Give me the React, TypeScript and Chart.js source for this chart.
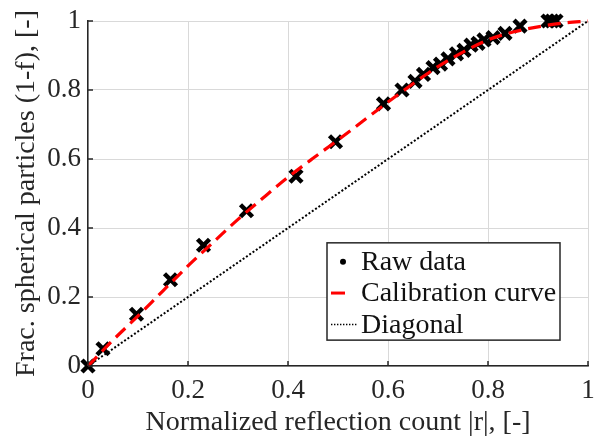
import React, { useEffect, useRef } from "react";
import { Chart, registerables } from "chart.js";

Chart.register(...registerables);

const rawX = [0, 0.03, 0.097, 0.165, 0.231, 0.317, 0.416, 0.495, 0.591, 0.628, 0.654, 0.671, 0.69, 0.705, 0.72, 0.737, 0.752, 0.766, 0.78, 0.792, 0.81, 0.834, 0.864, 0.92, 0.928, 0.936];
const rawY = [0, 0.05, 0.15, 0.25, 0.35, 0.45, 0.55, 0.65, 0.76, 0.8, 0.825, 0.845, 0.865, 0.875, 0.89, 0.905, 0.915, 0.93, 0.935, 0.945, 0.952, 0.964, 0.985, 1.0, 1.0, 1.0];

const calX = [0, 0.05, 0.1, 0.15, 0.2, 0.25, 0.3, 0.35, 0.4, 0.45, 0.5, 0.55, 0.6, 0.65, 0.7, 0.75, 0.8, 0.85, 0.9, 0.95, 1.0];
const calY = [0, 0.075, 0.145, 0.218, 0.29, 0.358, 0.425, 0.487, 0.547, 0.602, 0.655, 0.71, 0.765, 0.818, 0.868, 0.91, 0.945, 0.968, 0.983, 0.994, 1.0];

const diagX = [0, 1];
const diagY = [0, 1];

const tickValues = [0, 0.2, 0.4, 0.6, 0.8, 1];
const tickLabels = ["0", "0.2", "0.4", "0.6", "0.8", "1"];

const seriesNames = ["Raw data", "Calibration curve", "Diagonal"];
const xTitle = "Normalized reflection count |r|, [-]";
const yTitle = "Frac. spherical particles (1-f), [-]";

const FONT = "'Liberation Serif', 'Times New Roman', serif";
const AXIS_COLOR = "#262626";

const innerTicks = {
  id: "innerTicks",
  afterDatasetsDraw(chart: any) {
    const { ctx, chartArea, scales } = chart;
    ctx.save();
    ctx.strokeStyle = AXIS_COLOR;
    ctx.lineWidth = 1.5;
    tickValues.forEach((v) => {
      const px = scales.x.getPixelForValue(v);
      ctx.beginPath();
      ctx.moveTo(px, chartArea.bottom);
      ctx.lineTo(px, chartArea.bottom - 5);
      ctx.stroke();
      const py = scales.y.getPixelForValue(v);
      ctx.beginPath();
      ctx.moveTo(chartArea.left, py);
      ctx.lineTo(chartArea.left + 5, py);
      ctx.stroke();
    });
    ctx.restore();
  },
};

const boxLegend = {
  id: "boxLegend",
  afterDraw(chart: any) {
    const { ctx, chartArea } = chart;
    const w = chartArea.right - chartArea.left;
    const h = chartArea.bottom - chartArea.top;
    const x0 = chartArea.left + w * 0.478;
    const y0 = chartArea.top + h * 0.643;
    const x1 = chartArea.left + w * 0.944;
    const y1 = chartArea.top + h * 0.925;
    ctx.save();
    ctx.fillStyle = "#ffffff";
    ctx.fillRect(x0, y0, x1 - x0, y1 - y0);
    ctx.strokeStyle = AXIS_COLOR;
    ctx.lineWidth = 1.5;
    ctx.strokeRect(x0, y0, x1 - x0, y1 - y0);
    const rowH = (y1 - y0) / 3.1;
    const textX = x0 + 34;
    ctx.font = `28px ${FONT}`;
    ctx.textBaseline = "middle";
    ctx.textAlign = "left";
    seriesNames.forEach((name, i) => {
      const cy = y0 + rowH * (i + 0.6);
      if (i === 0) {
        ctx.fillStyle = "#000";
        ctx.beginPath();
        ctx.arc(x0 + 16, cy, 3, 0, Math.PI * 2);
        ctx.fill();
      } else if (i === 1) {
        ctx.strokeStyle = "#ff0000";
        ctx.lineWidth = 3;
        ctx.beginPath();
        ctx.moveTo(x0 + 4, cy);
        ctx.lineTo(x0 + 18, cy);
        ctx.stroke();
      } else {
        ctx.strokeStyle = "#000";
        ctx.lineWidth = 1.4;
        ctx.setLineDash([1.4, 1.6]);
        ctx.beginPath();
        ctx.moveTo(x0 + 4, cy);
        ctx.lineTo(x0 + 31, cy);
        ctx.stroke();
        ctx.setLineDash([]);
      }
      ctx.fillStyle = "#111";
      ctx.fillText(name, textX, cy + 1);
    });
    ctx.restore();
  },
};

export default function App() {
  const ref = useRef<HTMLCanvasElement | null>(null);
  useEffect(() => {
    document.body.style.margin = "0";
    const canvas = ref.current!;
    const chart = new Chart(canvas, {
      type: "scatter",
      data: {
        datasets: [
          {
            label: seriesNames[1],
            data: calX.map((x, i) => ({ x, y: calY[i] })),
            showLine: true,
            borderColor: "#ff0000",
            borderWidth: 3.2,
            borderDash: [13, 7],
            pointRadius: 0,
            cubicInterpolationMode: "monotone",
            clip: false,
            order: 0,
          } as any,
          {
            label: seriesNames[0],
            data: rawX.map((x, i) => ({ x, y: rawY[i] })),
            showLine: false,
            pointStyle: "crossRot",
            pointRadius: 8.5,
            borderColor: "#000",
            backgroundColor: "#000",
            pointBorderWidth: 4.5,
            borderWidth: 4.5,
            clip: false,
            order: 1,
          } as any,
          {
            label: seriesNames[2],
            data: diagX.map((x, i) => ({ x, y: diagY[i] })),
            showLine: true,
            borderColor: "#000",
            borderWidth: 2,
            borderDash: [2, 2],
            pointRadius: 0,
            clip: false,
            order: 2,
          } as any,
        ],
      },
      options: {
        responsive: false,
        animation: false,
        layout: { autoPadding: false, padding: { top: 21, right: 8, left: 0, bottom: 0 } },
        plugins: { legend: { display: false }, tooltip: { enabled: false } },
        scales: {
          x: {
            type: "linear",
            min: 0,
            max: 1,
            afterFit: (s: any) => { s.height = 73; s.paddingLeft = 0; s.paddingRight = 0; },
            afterBuildTicks: (s: any) => { s.ticks = tickValues.map((v) => ({ value: v })); },
            ticks: {
              callback: (_v: any, i: number) => tickLabels[i],
              font: { family: FONT, size: 27 },
              color: "#262626",
              padding: 9,
              maxRotation: 0,
            },
            grid: { color: "#d9d9d9", lineWidth: 1, drawTicks: false },
            border: { display: true, color: AXIS_COLOR, width: 1.5 },
            title: {
              display: true,
              text: xTitle,
              font: { family: FONT, size: 28 },
              color: "#262626",
              padding: { top: 0, bottom: 0 },
            },
          },
          y: {
            type: "linear",
            min: 0,
            max: 1,
            afterFit: (s: any) => { s.width = 88; s.paddingTop = 0; s.paddingBottom = 0; },
            afterBuildTicks: (s: any) => { s.ticks = tickValues.map((v) => ({ value: v })); },
            ticks: {
              callback: (_v: any, i: number) => tickLabels[i],
              font: { family: FONT, size: 27 },
              color: "#262626",
              padding: 7,
            },
            grid: { color: "#d9d9d9", lineWidth: 1, drawTicks: false },
            border: { display: true, color: AXIS_COLOR, width: 1.5 },
            title: {
              display: true,
              text: yTitle,
              font: { family: FONT, size: 28 },
              color: "#262626",
              padding: { top: 10, bottom: 0 },
            },
          },
        },
      },
      plugins: [innerTicks, boxLegend],
    });
    return () => chart.destroy();
  }, []);
  return (
    <div style={{ position: "absolute", left: 0, top: 0, width: 596, height: 439, background: "#fff" }}>
      <canvas ref={ref} width={596} height={439} />
    </div>
  );
}
